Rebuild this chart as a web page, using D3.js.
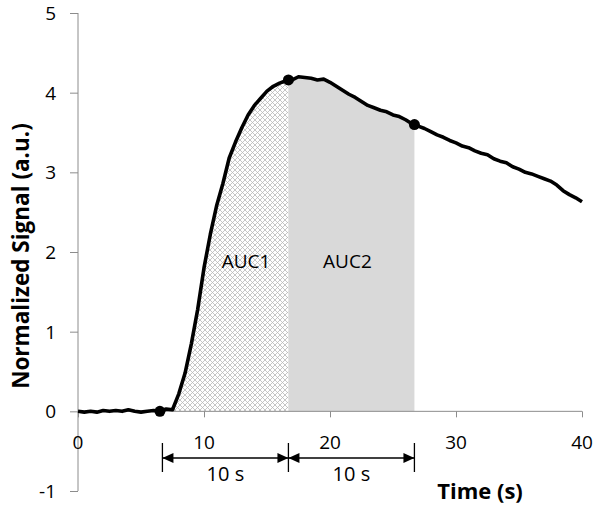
<!DOCTYPE html>
<head>
<meta charset="utf-8">
<style>
body { margin: 0; background: #fff; }
text { font-family: "Open Sans", "DejaVu Sans", sans-serif; }
.axis path, .axis line { stroke: #8c8c8c; }
</style>
</head>
<body>
<script src="https://d3js.org/d3.v7.min.js"></script>
<script>
// signal, one value every 0.5 s
var times = d3.range(0, 40.01, 0.5);
var signal = [0.00, -0.01, 0.00, -0.01, 0.01, 0.00, 0.01, 0.00, 0.02, 0.00,
  -0.01, 0.00, 0.01, 0.00, 0.03, 0.02, 0.22, 0.48, 0.85, 1.28,
  1.80, 2.22, 2.58, 2.86, 3.18, 3.38, 3.56, 3.72, 3.84, 3.93,
  4.02, 4.08, 4.12, 4.15, 4.16, 4.20, 4.19, 4.18, 4.16, 4.17,
  4.13, 4.08, 4.03, 3.98, 3.94, 3.89, 3.84, 3.81, 3.78, 3.76,
  3.72, 3.70, 3.66, 3.61, 3.58, 3.55, 3.51, 3.47, 3.44, 3.40,
  3.37, 3.33, 3.31, 3.27, 3.24, 3.22, 3.17, 3.14, 3.12, 3.07,
  3.04, 3.00, 2.98, 2.95, 2.92, 2.89, 2.84, 2.77, 2.72, 2.68, 2.63];
var markerTimes = [6.5, 16.7, 26.7];
var markerValues = [0.00, 4.16, 3.60];
var spanTimes = [6.7, 16.7, 26.7];
var spanLabels = ["10 s", "10 s"];
var aucLabels = ["AUC1", "AUC2"];
var xTicks = [0, 10, 20, 30, 40];
var yTicks = [-1, 0, 1, 2, 3, 4, 5];

var width = 601, height = 510;
var x = d3.scaleLinear().domain([0, 40]).range([78, 582]);
var y = d3.scaleLinear().domain([-1, 5]).range([491, 13]);

var svg = d3.select("body").append("svg")
    .attr("width", width)
    .attr("height", height);

var data = times.map(function(t, i) { return { t: t, v: signal[i] }; });

// hatch pattern for AUC1
var defs = svg.append("defs");
var pat = defs.append("pattern")
    .attr("id", "hatch")
    .attr("patternUnits", "userSpaceOnUse")
    .attr("width", 5).attr("height", 5);
pat.append("path").attr("d", "M0,0L5,5M5,0L0,5")
    .attr("stroke", "#b8b8b8").attr("stroke-width", 0.8);

// area pieces between marker times
function piece(t0, v0, t1, v1) {
  var pts = [{ t: t0, v: v0 }].concat(data.filter(function(d) { return d.t > t0 && d.t < t1; }));
  pts.push({ t: t1, v: v1 });
  return pts;
}
var area = d3.area()
    .x(function(d) { return x(d.t); })
    .y0(y(0))
    .y1(function(d) { return y(d.v); });

svg.append("path")
    .datum(piece(markerTimes[0], markerValues[0], markerTimes[1], markerValues[1]))
    .attr("fill", "url(#hatch)")
    .attr("d", area);
svg.append("path")
    .datum(piece(markerTimes[1], markerValues[1], markerTimes[2], markerValues[2]))
    .attr("fill", "#d9d9d9")
    .attr("d", area);

// axes
svg.append("g").attr("class", "axis")
    .attr("transform", "translate(" + x(0) + ",0)")
    .call(d3.axisLeft(y).tickValues(yTicks).tickSize(8).tickFormat(""))
    .call(function(g) { g.select(".domain").attr("d", "M0," + y(-1) + "V" + y(5)); });
svg.append("g").attr("class", "axis")
    .attr("transform", "translate(0," + y(0) + ")")
    .call(d3.axisBottom(x).tickValues(xTicks).tickSize(6).tickFormat(""))
    .call(function(g) { g.select(".domain").attr("d", "M" + x(0) + ",0H" + x(40)); });

svg.selectAll(".ylab").data(yTicks).enter().append("text")
    .attr("x", 56).attr("y", function(d) { return y(d); })
    .attr("dy", "0.36em")
    .attr("text-anchor", "end")
    .style("font-size", "19px")
    .text(function(d) { return d; });
svg.selectAll(".xlab").data(xTicks).enter().append("text")
    .attr("x", function(d) { return x(d); }).attr("y", y(0) + 31)
    .attr("dy", "0.36em")
    .attr("text-anchor", "middle")
    .style("font-size", "19px")
    .text(function(d) { return d; });

// signal line
svg.append("path")
    .datum(data)
    .attr("fill", "none")
    .attr("stroke", "#000")
    .attr("stroke-width", 3.6)
    .attr("stroke-linejoin", "round")
    .attr("d", d3.line().x(function(d) { return x(d.t); }).y(function(d) { return y(d.v); }));

svg.selectAll(".dot").data(markerTimes).enter().append("circle")
    .attr("cx", function(d) { return x(d); })
    .attr("cy", function(d, i) { return y(markerValues[i]); })
    .attr("r", 5.5)
    .attr("fill", "#000");

// AUC labels
svg.selectAll(".auc").data(aucLabels).enter().append("text")
    .attr("x", function(d, i) { return i === 0 ? 246 : x((spanTimes[1] + spanTimes[2]) / 2) - 4; })
    .attr("y", y(1.88))
    .attr("dy", "0.36em")
    .attr("text-anchor", "middle")
    .style("font-size", "19px")
    .text(function(d) { return d; });

// 10 s dimension arrows
var ay = 458;
svg.selectAll(".bar").data(spanTimes).enter().append("line")
    .attr("x1", function(d) { return x(d); }).attr("x2", function(d) { return x(d); })
    .attr("y1", 443).attr("y2", 472)
    .attr("stroke", "#000").attr("stroke-width", 1.3);
spanLabels.forEach(function(lab, i) {
  var a = x(spanTimes[i]), b = x(spanTimes[i + 1]);
  svg.append("line").attr("x1", a).attr("x2", b).attr("y1", ay).attr("y2", ay)
      .attr("stroke", "#000").attr("stroke-width", 1.5);
  svg.append("path").attr("d", "M" + a + "," + ay + "l11,-5v10z").attr("fill", "#000");
  svg.append("path").attr("d", "M" + b + "," + ay + "l-11,-5v10z").attr("fill", "#000");
  svg.append("text")
      .attr("x", (a + b) / 2).attr("y", 474)
      .attr("dy", "0.36em")
      .attr("text-anchor", "middle")
      .style("font-size", "20px")
      .text(lab);
});

// axis titles
svg.append("text")
    .attr("transform", "translate(21,256) rotate(-90)")
    .attr("dy", "0.36em")
    .attr("text-anchor", "middle")
    .style("font-size", "22.5px").style("font-weight", "bold")
    .text("Normalized Signal (a.u.)");
svg.append("text")
    .attr("x", 480).attr("y", 491)
    .attr("dy", "0.36em")
    .attr("text-anchor", "middle")
    .style("font-size", "22px").style("font-weight", "bold")
    .text("Time (s)");
</script>
</body>
</html>
